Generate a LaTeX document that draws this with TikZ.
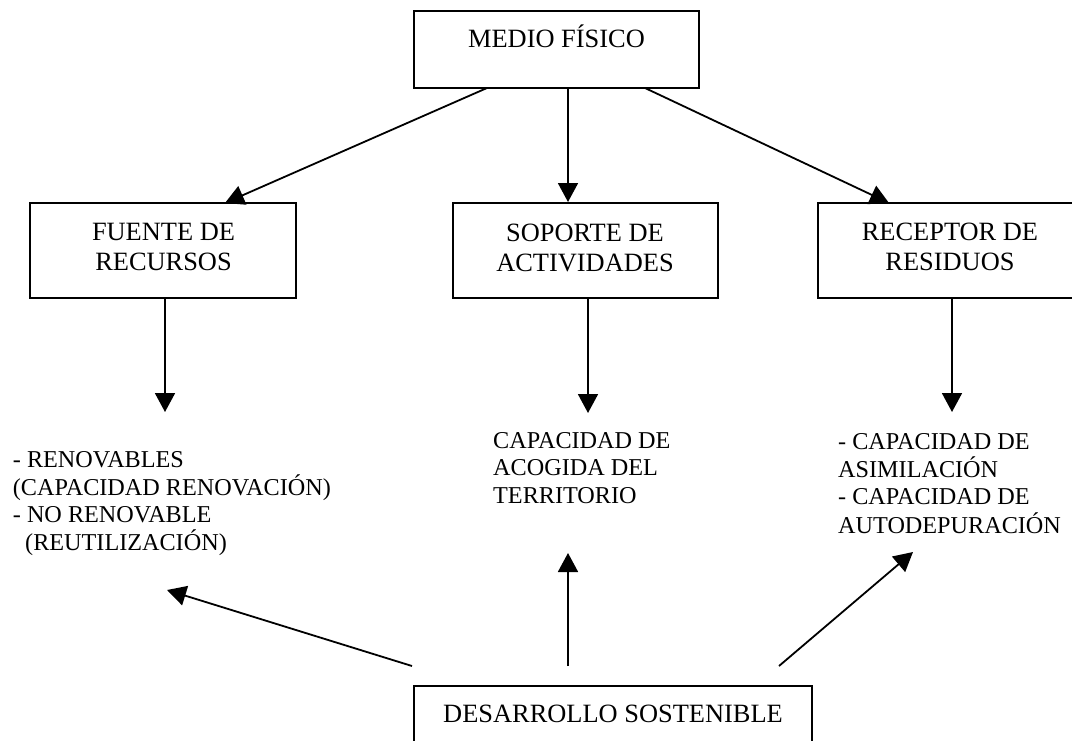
\documentclass[tikz,border=0pt]{standalone}
\usepackage{fontspec}
\setmainfont{Liberation Serif}
\usetikzlibrary{arrows.meta,calc}
\begin{document}
\begin{tikzpicture}[x=1pt,y=-1pt,
  boxnode/.style={draw, line width=2pt, rectangle, inner sep=0pt, outer sep=0pt},
  boxtext/.style={anchor=base, inner sep=0pt, font=\fontsize{26.4}{30.4}\selectfont},
  plaintext/.style={anchor=base west, inner sep=0pt, font=\fontsize{24.2}{27.7}\selectfont},
  conn/.style={line width=1.8pt, -{Triangle[width=20pt,length=19pt]}}
]
\useasboundingbox (0,0) rectangle (1072,740);
\clip (0,0) rectangle (1072,740);

% boxes
\node[boxnode, minimum width=285pt, minimum height=77pt] (medio) at (556.5,49.5) {};
\node[boxnode, minimum width=266pt, minimum height=95pt] (fuente) at (163,250.5) {};
\node[boxnode, minimum width=265pt, minimum height=95pt] (soporte) at (585.5,250.5) {};
\node[boxnode, minimum width=264pt, minimum height=95pt] (receptor) at (950,250.5) {};
\node[boxnode, minimum width=398pt, minimum height=84pt] (desarrollo) at (613,728) {};

% box texts
\node[boxtext] (medioT) at (556.5,47) {MEDIO FÍSICO};
\node[boxtext] (fuenteT1) at (163.5,240.5) {FUENTE DE};
\node[boxtext] (fuenteT2) at (163.5,270.5) {RECURSOS};
\node[boxtext] (soporteT1) at (585,241.5) {SOPORTE DE};
\node[boxtext] (soporteT2) at (585,271.5) {ACTIVIDADES};
\node[boxtext] (receptorT1) at (950,240.5) {RECEPTOR DE};
\node[boxtext] (receptorT2) at (950,270.5) {RESIDUOS};
\node[boxtext] (desarrolloT) at (613,722) {DESARROLLO SOSTENIBLE};

% plain texts
\node[plaintext] (izq1) at (12.7,467) {- RENOVABLES};
\node[plaintext] (izq2) at (12.7,495) {(CAPACIDAD RENOVACIÓN)};
\node[plaintext] (izq3) at (12.7,522) {- NO RENOVABLE};
\node[plaintext] (izq4) at (25,550) {(REUTILIZACIÓN)};

\node[plaintext] (cen1) at (493,448) {CAPACIDAD DE};
\node[plaintext] (cen2) at (493,475.5) {ACOGIDA DEL};
\node[plaintext] (cen3) at (493,503) {TERRITORIO};

\node[plaintext] (der1) at (838,449) {- CAPACIDAD DE};
\node[plaintext] (der2) at (838,477) {ASIMILACIÓN};
\node[plaintext] (der3) at (838,504.5) {- CAPACIDAD DE};
\node[plaintext] (der4) at (838,533) {AUTODEPURACIÓN};

% connector end points
\coordinate (mL) at (487,88);
\coordinate (mC) at (568,88);
\coordinate (mR) at (645,88);
\coordinate (fTop) at (225,203);
\coordinate (sTop) at (568,202);
\coordinate (rTop) at (889,203);
\coordinate (fBot) at (165,298);
\coordinate (sBot) at (588,298);
\coordinate (rBot) at (952,298);
\coordinate (izqTip) at (165,412);
\coordinate (cenTip) at (588,413);
\coordinate (derTip) at (952,412);
\coordinate (dL) at (412,666);
\coordinate (dC) at (568,666);
\coordinate (dR) at (779,666);
\coordinate (izqUp) at (167,590);
\coordinate (cenUp) at (568,553);
\coordinate (derUp) at (913,552);

% connectors
\draw[conn] (mL) -- (fTop);
\draw[conn] (mC) -- (sTop);
\draw[conn] (mR) -- (rTop);
\draw[conn] (fBot) -- (izqTip);
\draw[conn] (sBot) -- (cenTip);
\draw[conn] (rBot) -- (derTip);
\draw[conn] (dL) -- (izqUp);
\draw[conn] (dC) -- (cenUp);
\draw[conn] (dR) -- (derUp);
\end{tikzpicture}
\end{document}
